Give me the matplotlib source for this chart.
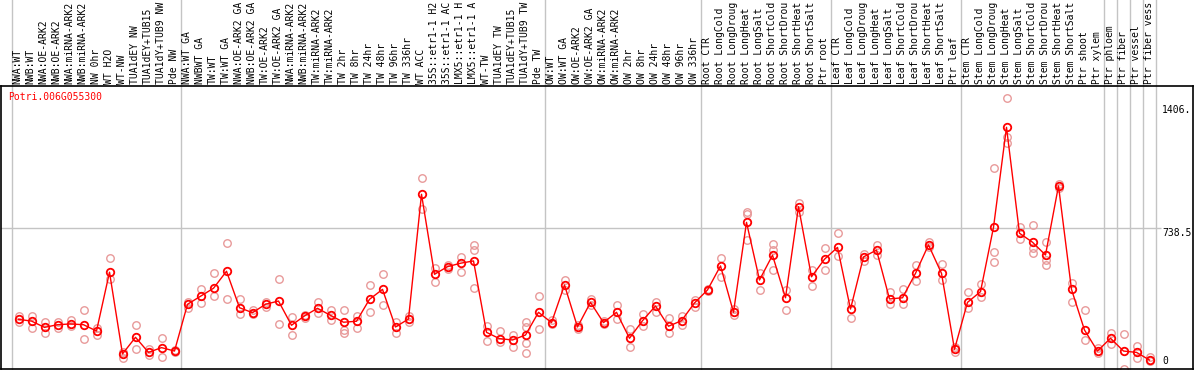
"""Expression profile of Potri.006G055300 across poplar samples."""

import matplotlib

matplotlib.use("Agg")
import matplotlib.pyplot as plt

GENE_ID = "Potri.006G055300"

# labels as far as the reference header shows them
SAMPLES = [
    "NWA:WT", "NWB:WT", "NWA:OE-ARK2", "NWB:OE-ARK2", "NWA:miRNA-ARK2",
    "NWB:miRNA-ARK2", "NW 0hr", "WT H2O", "WT-NW", "TUA1dEY NW",
    "TUA1dEY+TUB15", "TUA1dY+TUB9 NW", "Pde NW",
    "NWA:WT GA", "NWBWT GA", "TW:WT", "TW:WT GA", "NWA:OE-ARK2 GA",
    "NWB:OE-ARK2 GA", "TW:OE-ARK2", "TW:OE-ARK2 GA", "NWA:miRNA-ARK2",
    "NWB:miRNA-ARK2", "TW:miRNA-ARK2", "TW:miRNA-ARK2", "TW 2hr", "TW 8hr",
    "TW 24hr", "TW 48hr", "TW 96hr", "TW 336hr", "WT ACC",
    "35S::etr1-1 H2", "35S::etr1-1 AC", "LMX5::etr1-1 H",
    "LMX5::etr1-1 A", "WT-TW", "TUA1dEY TW", "TUA1dEY+TUB15",
    "TUA1dY+TUB9 TW", "Pde TW",
    "OW:WT", "OW:WT GA", "OW:OE-ARK2", "OW:OE-ARK2 GA", "OW:miRNA-ARK2",
    "OW:miRNA-ARK2", "OW 2hr", "OW 8hr", "OW 24hr", "OW 48hr", "OW 96hr",
    "OW 336hr",
    "Root CTR", "Root LongCold", "Root LongDroug", "Root LongHeat",
    "Root LongSalt", "Root ShortCold", "Root ShortDrou", "Root ShortHeat",
    "Root ShortSalt", "Ptr root",
    "Leaf CTR", "Leaf LongCold", "Leaf LongDroug", "Leaf LongHeat",
    "Leaf LongSalt", "Leaf ShortCold", "Leaf ShortDrou", "Leaf ShortHeat",
    "Leaf ShortSalt", "Ptr leaf",
    "Stem CTR", "Stem LongCold", "Stem LongDroug", "Stem LongHeat",
    "Stem LongSalt", "Stem ShortCold", "Stem ShortDrou", "Stem ShortHeat",
    "Stem ShortSalt", "Ptr shoot",
    "Ptr xylem", "Ptr phloem", "Ptr fiber", "Ptr vessel", "Ptr fiber vess",
]

MEANS = [
    260, 251, 218, 232, 236, 232, 199, 507, 79, 166, 87, 112, 94,
    339, 381, 423, 512, 321, 295, 339, 356, 229, 278, 318, 281, 245, 250,
    365, 417, 220, 262, 915, 496, 536, 554, 566, 192, 159, 152, 178, 297,
    243, 440, 220, 349, 243, 297, 161, 253, 330, 224, 253, 346,
    414, 540, 297, 768, 466, 596, 373, 850, 483, 575,
    637, 314, 587, 623, 367, 373, 501, 650, 501, 103,
    349, 405, 742, 1266, 711, 664, 597, 959, 417, 204,
    94, 161, 94, 87, 47,
]

REPLICATES = [
    [279, 248], [278, 213], [246, 187], [246, 216], [257, 225], [309, 157],
    [213, 178], [580, 470], [56, 91], [229, 103], [103, 73], [161, 61],
    [100, 88],
    [353, 318], [417, 344], [501, 382], [658, 365], [365, 287], [309, 290],
    [323, 350], [470, 236], [274, 177], [266, 285], [349, 292], [309, 257],
    [307, 204, 190], [279, 213], [440, 300], [496, 334], [248, 187],
    [245, 275], [999, 837], [527, 457], [524, 545], [588, 508],
    [650, 623, 423], [227, 148], [197, 140], [178, 117], [248, 222, 135, 82],
    [382, 208],
    [257, 235], [466, 414], [230, 210], [365, 335], [250, 236], [335, 260],
    [208, 114], [288, 227], [353, 300], [266, 187], [278, 230], [361, 326],
    [420, 408], [580, 483], [313, 283], [824, 812, 676], [501, 414],
    [655, 623, 519], [414, 309], [868, 822], [519, 435], [632, 519],
    [711, 592], [344, 266], [602, 566], [650, 597], [405, 339], [417, 339],
    [545, 461], [667, 640], [550, 466], [117, 91],
    [403, 318], [445, 379], [1051, 614, 562], [1418, 1214, 1182], [745, 679],
    [753, 632, 606], [664, 571, 545], [969, 947], [449, 349], [309, 152],
    [108, 85], [190, 129], [183, 0], [120, 56], [61, 40],
]

# column index (0-based) where each boxed group starts, plus the last edge
GROUP_EDGES = [0, 13, 41, 53, 63, 73, 84, 85, 86, 87, 88]
AXIS_MAX = 1477.0
AXIS_LABELS = ["1406.", "738.5", "0"]
AXIS_LABEL_VALUES = [1406, AXIS_MAX / 2, 0]

W, H = 1194, 370
PX_PER_COL = 13
X0_PX = 12          # pixel of the first column edge
TOP_PX, BOT_PX = 86, 369
PX_PER_UNIT = (BOT_PX - 228) / (AXIS_MAX / 2)

RED = "#ff0000"
PINK = "#e89a9a"
GRID = "#c4c4c4"
MONO = "DejaVu Sans Mono"
FS = 7.0


def px_to_x(px):
    return 0.5 + (px - X0_PX) / PX_PER_COL


def main():
    fig = plt.figure(figsize=(W / 100, H / 100), dpi=100)
    ax = fig.add_axes([1 / W, (H - BOT_PX) / H, 1192 / W, (BOT_PX - TOP_PX) / H])
    ax.set_xlim(px_to_x(1), px_to_x(1193))
    ax.set_ylim(0, (BOT_PX - TOP_PX) / PX_PER_UNIT)
    ax.set_xticks([])
    ax.set_yticks([])
    for spine in ax.spines.values():
        spine.set_color("black")
        spine.set_linewidth(1.2)

    over_top = BOT_PX / (BOT_PX - TOP_PX)
    for edge in GROUP_EDGES:
        ax.axvline(edge + 0.5, ymin=0, ymax=over_top, color=GRID, lw=1,
                   clip_on=False, zorder=0)
    ax.hlines(AXIS_MAX / 2, px_to_x(0), px_to_x(1161), color=GRID, lw=1,
              zorder=0)

    xs = list(range(1, len(MEANS) + 1))
    for x, reps in zip(xs, REPLICATES):
        ax.plot([x] * len(reps), reps, "o", mfc="none", mec=PINK, ms=5.4,
                mew=1.0, zorder=2, clip_on=False)
    ax.plot(xs, MEANS, "-", color=RED, lw=1, zorder=3)
    ax.plot(xs, MEANS, "o", mfc="none", mec=RED, ms=5.4, mew=1.3, zorder=4)

    label_y = (BOT_PX - 84) / (BOT_PX - TOP_PX)
    for x, name in zip(xs, SAMPLES):
        ax.text(x - 0.05, label_y, name, rotation=90, ha="center", va="bottom",
                family=MONO, fontsize=FS, transform=ax.get_xaxis_transform(),
                clip_on=False)

    fig.text(8 / W, 1 - 97 / H, GENE_ID, color=RED, family=MONO, fontsize=FS,
             ha="left", va="center")

    lab_x = px_to_x(1162)
    for text, value in zip(AXIS_LABELS, AXIS_LABEL_VALUES):
        va = "bottom" if value == 0 else "top"
        dy = 3 if value == 0 else -4 if value > AXIS_MAX / 2 else 0
        ax.annotate(text, (lab_x, value), xytext=(0, dy),
                    textcoords="offset pixels", ha="left", va=va,
                    family=MONO, fontsize=FS)

    fig.savefig("out.png", dpi=100)


if __name__ == "__main__":
    main()
